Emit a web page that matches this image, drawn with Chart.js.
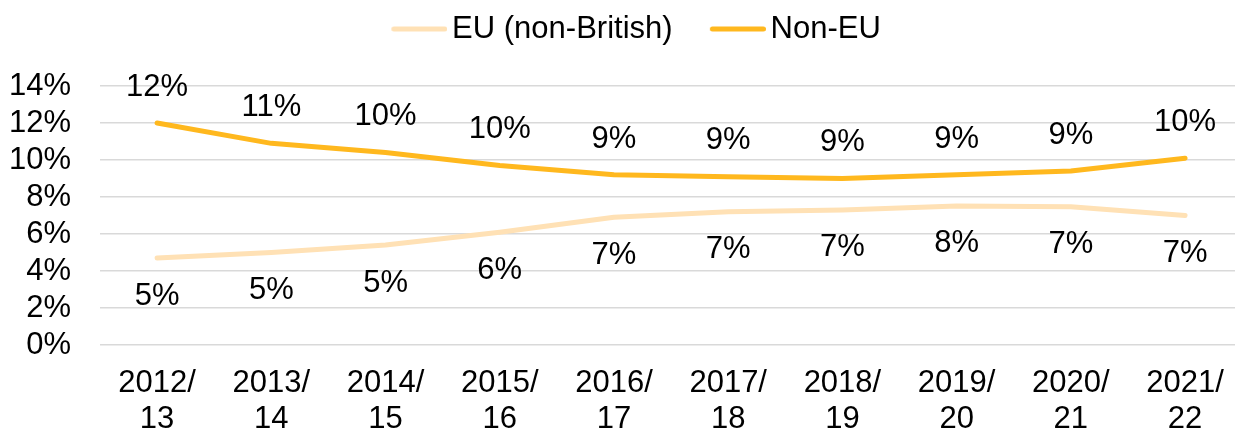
<!DOCTYPE html>
<html>
<head>
<meta charset="utf-8">
<script src="https://cdn.jsdelivr.net/npm/chart.js@4/dist/chart.umd.min.js"></script>
<style>
  html, body { margin: 0; padding: 0; background: #fff; overflow: hidden; }
  #wrap { position: relative; width: 1245px; height: 430px; }
</style>
</head>
<body>
<div id="wrap"><canvas id="chart"></canvas></div>
<script>
// Academic years
const years = [
  ['2012/', '13'], ['2013/', '14'], ['2014/', '15'], ['2015/', '16'], ['2016/', '17'],
  ['2017/', '18'], ['2018/', '19'], ['2019/', '20'], ['2020/', '21'], ['2021/', '22']
];

// Share of staff by nationality, %
const euNonBritish = [4.7, 5.0, 5.4, 6.1, 6.9, 7.2, 7.3, 7.52, 7.47, 7.0];
const nonEU        = [12.0, 10.9, 10.4, 9.7, 9.2, 9.1, 9.0, 9.2, 9.4, 10.1];

// Y-axis ticks
const yTicks = [0, 2, 4, 6, 8, 10, 12, 14];

const FONT = "'Liberation Sans', Arial, sans-serif";
const FONT_SIZE = 31;
const EU_COLOR = '#FFE1B5';
const NON_EU_COLOR = '#FFB81E';

// Legend swatch: a short rounded line, sitting just left of its label
function legendSwatch(color) {
  const c = document.createElement('canvas');
  c.width = 94; c.height = 10;
  const g = c.getContext('2d');
  g.strokeStyle = color;
  g.lineWidth = 5;
  g.lineCap = 'round';
  g.beginPath();
  g.moveTo(40.5, 5);
  g.lineTo(91.5, 5);
  g.stroke();
  return c;
}

// Percentage labels next to each point
const pointLabels = {
  id: 'pointLabels',
  afterDatasetsDraw(chart) {
    const ctx = chart.ctx;
    ctx.save();
    ctx.font = FONT_SIZE + 'px ' + FONT;
    ctx.fillStyle = '#000';
    ctx.textAlign = 'center';
    ctx.textBaseline = 'middle';
    chart.data.datasets.forEach((ds, i) => {
      const meta = chart.getDatasetMeta(i);
      const shift = ds.labelSide === 'below' ? 38 : -35.7;
      meta.data.forEach((pt, j) => {
        ctx.fillText(Math.round(ds.data[j]) + '%', pt.x, pt.y + shift);
      });
    });
    ctx.restore();
  }
};

new Chart(document.getElementById('chart'), {
  type: 'line',
  data: {
    labels: years,
    datasets: [
      {
        label: 'EU (non-British)',
        data: euNonBritish,
        borderColor: EU_COLOR,
        backgroundColor: EU_COLOR,
        borderWidth: 5,
        borderCapStyle: 'round',
        borderJoinStyle: 'round',
        pointRadius: 0,
        tension: 0,
        xAxisID: 'x',
        labelSide: 'below'
      },
      {
        label: 'Non-EU',
        data: nonEU,
        borderColor: NON_EU_COLOR,
        backgroundColor: NON_EU_COLOR,
        borderWidth: 5,
        borderCapStyle: 'round',
        borderJoinStyle: 'round',
        pointRadius: 0,
        tension: 0,
        xAxisID: 'x',
        labelSide: 'above'
      }
    ]
  },
  options: {
    responsive: true,
    maintainAspectRatio: false,
    animation: false,
    events: [],
    layout: { padding: { top: 3.5, left: 0, right: 0, bottom: 0 } },
    plugins: {
      tooltip: { enabled: false },
      legend: {
        position: 'top',
        align: 'center',
        labels: {
          usePointStyle: true,
          pointStyleWidth: 72.5,
          padding: 10,
          color: '#000',
          font: { family: FONT, size: FONT_SIZE },
          generateLabels(chart) {
            const items = Chart.defaults.plugins.legend.labels.generateLabels(chart);
            items.forEach(it => { it.pointStyle = legendSwatch(it.strokeStyle); });
            return items;
          }
        }
      }
    },
    scales: {
      x: {
        type: 'category',
        position: 'bottom',
        offset: true,
        grid: { display: false, drawTicks: false },
        border: { display: false },
        ticks: {
          color: '#000',
          font: { family: FONT, size: FONT_SIZE, lineHeight: 1.15 },
          padding: 21,
          maxRotation: 0,
          autoSkip: false
        },
        afterFit(scale) { scale.height = 85; }
      },
      // empty band between the legend and the plot
      gap: {
        type: 'category',
        axis: 'x',
        position: 'top',
        grid: { display: false, drawTicks: false },
        border: { display: false },
        ticks: { display: false },
        afterFit(scale) { scale.height = 31.5; }
      },
      y: {
        min: yTicks[0],
        max: yTicks[yTicks.length - 1],
        afterBuildTicks(scale) { scale.ticks = yTicks.map(v => ({ value: v })); },
        grid: { color: '#d9d9d9', lineWidth: 1.5, drawTicks: false },
        border: { display: false },
        ticks: {
          color: '#000',
          font: { family: FONT, size: FONT_SIZE },
          padding: 29,
          autoSkip: false,
          callback: v => v + '%'
        },
        afterFit(scale) { scale.width = 100; }
      }
    }
  },
  plugins: [pointLabels]
});
</script>
</body>
</html>
